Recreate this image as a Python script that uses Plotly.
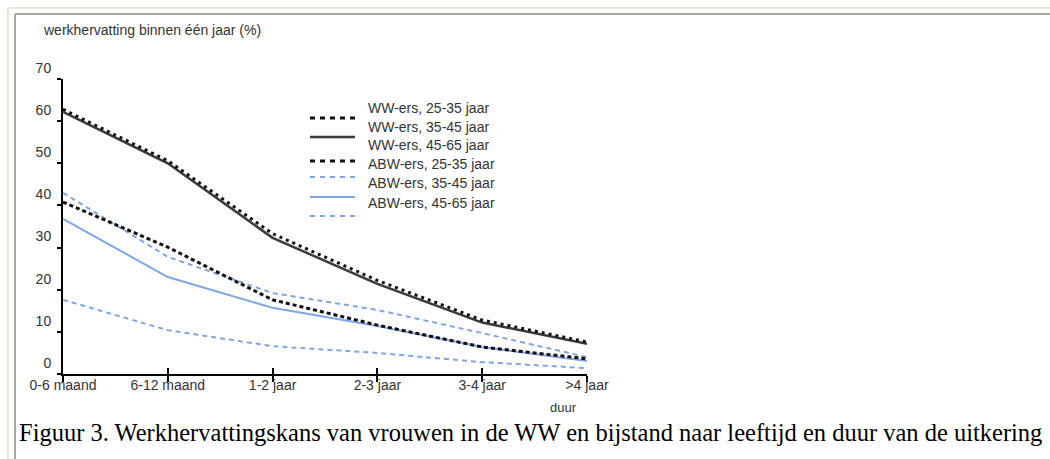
import plotly.graph_objects as go

# ---------------- data ----------------
categories = ["0-6 maand", "6-12 maand", "1-2 jaar", "2-3 jaar", "3-4 jaar", ">4 jaar"]
y_ticks = [0, 10, 20, 30, 40, 50, 60, 70]

ww_25_35 = [62.8, 50.6, 33.3, 22.2, 12.8, 7.6]
ww_35_45 = [62.2, 50.0, 32.3, 21.4, 12.2, 7.2]
ww_45_65 = [40.8, 30.1, 17.6, 11.6, 6.4, 3.6]
abw_25_35 = [43.0, 27.8, 19.2, 15.2, 9.7, 4.0]
abw_35_45 = [36.8, 23.0, 15.7, 11.4, 6.4, 3.1]
abw_45_65 = [17.6, 10.4, 6.6, 5.0, 2.8, 1.4]

series_names = ["WW-ers, 25-35 jaar", "WW-ers, 35-45 jaar", "WW-ers, 45-65 jaar",
                "ABW-ers, 25-35 jaar", "ABW-ers, 35-45 jaar", "ABW-ers, 45-65 jaar"]
series_values = [ww_25_35, ww_35_45, ww_45_65, abw_25_35, abw_35_45, abw_45_65]

y_title = "werkhervatting binnen één jaar (%)"
x_title = "duur"
caption = "Figuur 3. Werkhervattingskans van vrouwen in de WW en bijstand naar leeftijd en duur van de uitkering"

# ---------------- styles ----------------
BLUE = "#7ea6e8"
styles = [
    dict(color="#111111", width=3, dash="3px,4px"),
    dict(color="#3a3a3a", width=2.5, dash="solid"),
    dict(color="#111111", width=3, dash="4px,3px"),
    dict(color=BLUE, width=2, dash="5px,4px"),
    dict(color=BLUE, width=2, dash="solid"),
    dict(color=BLUE, width=2, dash="5px,4px"),
]
draw_order = [3, 4, 5, 1, 0, 2]

W, H = 1050, 459
L, R, T, B = 63, 587, 79, 374  # plot area in pixels


def xp(px):
    return (px - L) / (R - L)


def yp(py):
    return (B - py) / (B - T)


x_idx = list(range(len(categories)))

fig = go.Figure()
for i in draw_order:
    fig.add_trace(go.Scatter(
        x=x_idx, y=series_values[i], mode="lines", name=series_names[i],
        line=styles[i], showlegend=False, hoverinfo="skip"))

# invisible trace to activate overlay axis for crossing ticks
fig.add_trace(go.Scatter(x=[0], y=[0], xaxis="x2", mode="markers",
                         marker=dict(opacity=0), showlegend=False, hoverinfo="skip"))

FONT = "Liberation Sans, Arial, sans-serif"
TXT = "#333333"
FS = 14

fig.update_layout(
    width=W, height=H,
    margin=dict(l=L, r=W - R, t=T, b=H - B, pad=0),
    paper_bgcolor="white", plot_bgcolor="white",
    showlegend=False,
    font=dict(family=FONT, size=FS, color=TXT),
    xaxis=dict(
        range=[0, 5], tickvals=x_idx, ticktext=categories,
        showgrid=False, zeroline=False,
        showline=True, linecolor="black", linewidth=2,
        ticks="outside", ticklen=6, tickwidth=2, tickcolor="black",
        ticklabelstandoff=-9,
        tickfont=dict(family=FONT, size=FS, color=TXT),
    ),
    xaxis2=dict(
        range=[0, 5], tickvals=x_idx, overlaying="x", side="bottom",
        showgrid=False, zeroline=False, showline=False,
        showticklabels=False, ticks="inside", ticklen=6, tickwidth=2, tickcolor="black",
    ),
    yaxis=dict(
        range=[0, 70], tickvals=y_ticks, ticktext=[str(v) for v in y_ticks],
        showgrid=False, zeroline=False,
        showline=True, linecolor="black", linewidth=2,
        ticks="outside", ticklen=4, tickwidth=2, tickcolor="black",
        ticklabelshift=-11, ticklabelstandoff=3,
        tickfont=dict(family=FONT, size=FS, color=TXT),
    ),
)

shapes = []
# frame lines (page border)
shapes.append(dict(type="line", xref="paper", yref="paper", x0=xp(8), x1=xp(1050), y0=yp(8), y1=yp(8),
                   line=dict(color="#ebe7d8", width=2)))
shapes.append(dict(type="line", xref="paper", yref="paper", x0=xp(8), x1=xp(8), y0=yp(8), y1=yp(459),
                   line=dict(color="#ebe7d8", width=2)))
shapes.append(dict(type="line", xref="paper", yref="paper", x0=xp(15), x1=xp(1050), y0=yp(14), y1=yp(14),
                   line=dict(color="#aca899", width=2)))
shapes.append(dict(type="line", xref="paper", yref="paper", x0=xp(15), x1=xp(15), y0=yp(14), y1=yp(459),
                   line=dict(color="#aca899", width=2)))

# custom (misaligned) legend as in the reference
sym_y = [118, 137, 161, 177, 197, 216]
lab_y = [108, 127, 145, 164, 183, 203]
for i in range(len(series_names)):
    st = styles[i]
    shapes.append(dict(type="line", xref="paper", yref="paper",
                       x0=xp(310), x1=xp(355), y0=yp(sym_y[i]), y1=yp(sym_y[i]),
                       line=dict(color=st["color"], width=st["width"],
                                 dash="5px,5px" if st["dash"] != "solid" else "solid")))

annotations = []
for i, name in enumerate(series_names):
    annotations.append(dict(text=name, xref="paper", yref="paper", x=xp(366), y=yp(lab_y[i]),
                            xanchor="left", yanchor="middle", showarrow=False,
                            font=dict(family=FONT, size=FS, color=TXT)))

annotations.append(dict(text=y_title, xref="paper", yref="paper", x=xp(41), y=yp(30),
                        xanchor="left", yanchor="middle", showarrow=False,
                        font=dict(family=FONT, size=FS, color=TXT)))
annotations.append(dict(text=x_title, xref="paper", yref="paper", x=xp(563), y=yp(407),
                        xanchor="center", yanchor="middle", showarrow=False,
                        font=dict(family=FONT, size=13, color=TXT)))
annotations.append(dict(text=caption, xref="paper", yref="paper", x=xp(17), y=yp(432),
                        xanchor="left", yanchor="middle", showarrow=False,
                        font=dict(family="Liberation Serif, Times New Roman, serif", size=24.5, color="black")))

fig.update_layout(shapes=shapes, annotations=annotations)

fig.write_html("out.html", config={"displayModeBar": False},
               post_script="document.body.style.margin='0';")
